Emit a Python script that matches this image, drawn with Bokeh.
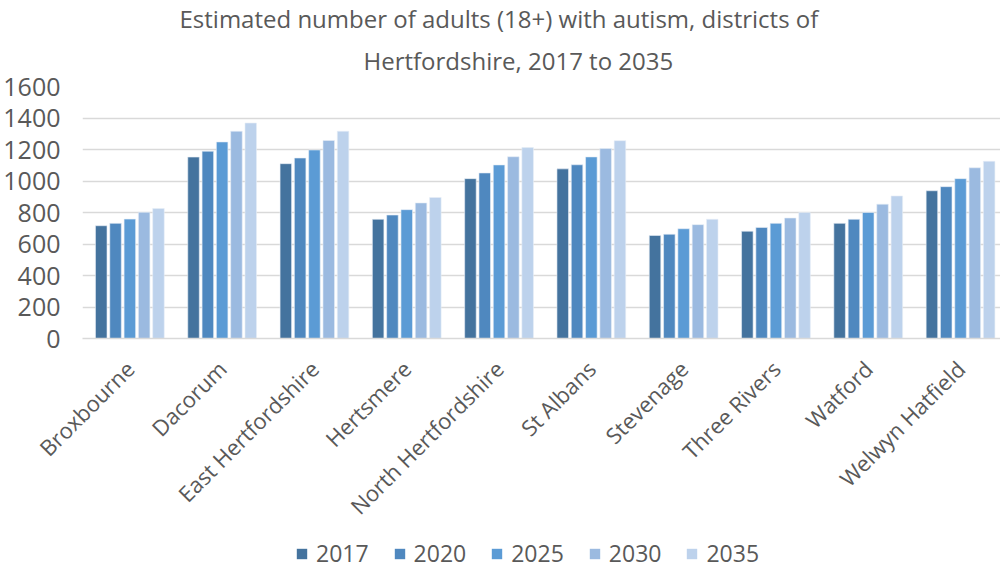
from math import pi
from bokeh.plotting import figure
from bokeh.layouts import column
from bokeh.models import (ColumnDataSource, Range1d, FixedTicker, Legend, LegendItem,
                          Title, NumeralTickFormatter)
from bokeh.transform import dodge
from bokeh.embed import file_html
from bokeh.resources import INLINE

districts = ["Broxbourne", "Dacorum", "East Hertfordshire", "Hertsmere",
             "North Hertfordshire", "St Albans", "Stevenage", "Three Rivers",
             "Watford", "Welwyn Hatfield"]
years = ["2017", "2020", "2025", "2030", "2035"]
v2017 = [716, 1152, 1110, 757, 1015, 1077, 654, 681, 731, 938]
v2020 = [731, 1189, 1146, 784, 1051, 1103, 662, 705, 757, 964]
v2025 = [758, 1248, 1197, 818, 1102, 1153, 697, 731, 800, 1015]
v2030 = [801, 1316, 1257, 861, 1154, 1206, 723, 765, 853, 1084]
v2035 = [825, 1368, 1316, 895, 1212, 1256, 757, 800, 905, 1125]
colors = ["#44739E", "#4F88BF", "#5B9BD5", "#9BBAE0", "#BDD2EC"]
title_lines = ["Estimated number of adults (18+) with autism, districts of",
               "Hertfordshire,  2017 to 2035"]

series = [v2017, v2020, v2025, v2030, v2035]
data = {"x": list(range(len(districts)))}
for y, vals in zip(years, series):
    data["y" + y] = vals
src = ColumnDataSource(data)

GREY = "#595959"
FONT = "Open Sans"
SLOT = 0.155
BAR_W = 0.125

p = figure(width=1000, height=533, output_backend="svg", toolbar_location=None,
           x_range=Range1d(-0.513, 9.433), y_range=Range1d(0, 1600),
           min_border_left=79, min_border_right=0, min_border_top=86,
           min_border_bottom=186)
p.outline_line_color = None
p.background_fill_color = "white"

for i, (y, c) in enumerate(zip(years, colors)):
    p.vbar(x=dodge("x", (i - 2) * SLOT, range=p.x_range), top="y" + y,
           width=BAR_W, bottom=0, source=src, fill_color=c,
           line_color="#E8EEF6", line_width=0.6)

# axes
xa = p.xaxis[0]
xa.ticker = FixedTicker(ticks=list(range(len(districts))))
xa.major_label_overrides = {i: d for i, d in enumerate(districts)}
xa.major_label_orientation = pi / 4
xa.major_label_text_font = FONT
xa.major_label_text_font_size = "22px"
xa.major_label_text_color = GREY
xa.major_label_standoff = 26
xa.major_tick_out = 0
xa.major_tick_in = 0
xa.major_tick_line_color = None
xa.minor_tick_line_color = None
xa.axis_line_color = "#D9D9D9"
xa.axis_line_width = 1.5

ya = p.yaxis[0]
ya.ticker = FixedTicker(ticks=list(range(0, 1601, 200)))
ya.formatter = NumeralTickFormatter(format="0")
ya.major_label_text_font = FONT
ya.major_label_text_font_size = "25px"
ya.major_label_text_color = GREY
ya.major_label_standoff = 22
ya.major_tick_out = 0
ya.major_tick_in = 0
ya.major_tick_line_color = None
ya.minor_tick_line_color = None
ya.axis_line_color = None

p.xgrid.grid_line_color = None
p.ygrid.grid_line_color = "#D9D9D9"
p.ygrid.grid_line_width = 1.5
p.ygrid.ticker = FixedTicker(ticks=list(range(200, 1601, 200)))

# two-line title (second line added first so it sits next to the plot)
p.add_layout(Title(text=title_lines[1], align="left", offset=281, standoff=20,
                   text_font=FONT, text_font_size="24px", text_font_style="normal",
                   text_color=GREY), "above")
p.add_layout(Title(text=title_lines[0], align="left", offset=97, standoff=-6,
                   text_font=FONT, text_font_size="24px", text_font_style="normal",
                   text_color=GREY), "above")

# legend strip below the chart (its own small axis-less plot; its bars lie outside its view)
leg = figure(width=1000, height=44, output_backend="svg", toolbar_location=None,
             x_axis_type=None, y_axis_type=None,
             x_range=Range1d(100, 101), y_range=Range1d(2000, 3000),
             min_border=0)
leg.grid.visible = False
leg.outline_line_color = None
leg_renderers = []
for i, (y, c) in enumerate(zip(years, colors)):
    r = leg.vbar(x=dodge("x", (i - 2) * SLOT, range=leg.x_range), top="y" + y,
                 width=BAR_W, bottom=0, source=src, fill_color=c, line_color=None)
    leg_renderers.append(r)

legend = Legend(items=[LegendItem(label=y, renderers=[r]) for y, r in zip(years, leg_renderers)],
                orientation="horizontal", location=(213, 8),
                label_text_font=FONT, label_text_font_size="23px",
                label_text_color=GREY, glyph_width=13, glyph_height=13,
                label_standoff=8, spacing=24, border_line_color=None,
                background_fill_alpha=0, padding=0, margin=0)
leg.add_layout(legend, "center")

layout = column(p, leg, spacing=0)
open("out.html", "w").write(file_html(layout, INLINE))
